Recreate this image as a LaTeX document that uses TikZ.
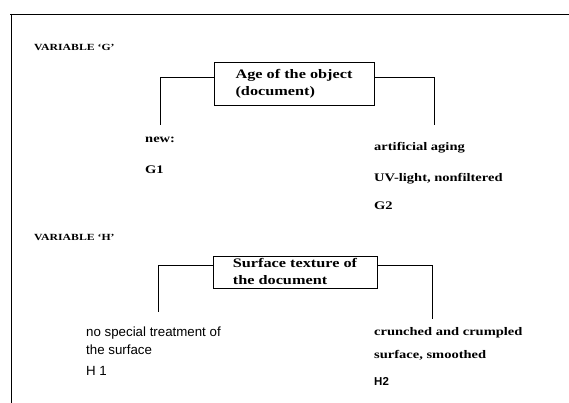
\documentclass[tikz,border=0pt]{standalone}
\usepackage{fontspec}
\setmainfont{Liberation Serif}[FakeStretch=1.25]
\setsansfont{Liberation Sans}
\usetikzlibrary{positioning}
\tikzset{varbox/.style={draw,line width=0.9pt,align=left,inner sep=0pt,
                        font=\bfseries\fontsize{13}{17}\selectfont},
         vartitle/.style={anchor=base west,inner sep=0pt,
                        font=\bfseries\fontsize{9.4}{12}\selectfont},
         lvl/.style={anchor=base west,inner sep=0pt,
                        font=\bfseries\fontsize{11.6}{15}\selectfont},
         slvl/.style={anchor=base west,inner sep=0pt,
                        font=\sffamily\fontsize{13.3}{15}\selectfont},
         wire/.style={line width=0.8pt}}

\begin{document}
\begin{tikzpicture}[x=1pt,y=-1pt]
    \useasboundingbox (0,0) rectangle (569,403);
    % frame
    \draw[wire] (10,14) -- (569,14);
    \draw[wire] (11,14) -- (11,403);
    %
    % variable G
    \node[vartitle] (varG) at (34,51) {VARIABLE `G'};
    \node[varbox,minimum width=160pt,minimum height=43pt] (boxG) at (294,83.5)
        {Age of the object\\(document)};
    \coordinate (g1end) at (160,125);
    \coordinate (g2end) at (434,125);
    \draw[wire] ([yshift=6.5pt]boxG.west) -| (g1end);
    \draw[wire] ([yshift=6.5pt]boxG.east) -| (g2end);
    \node[lvl] (g1a) at (145,143) {new:};
    \node[lvl] (g1b) at (145,174) {G1};
    \node[lvl] (g2a) at (374,151) {artificial aging};
    \node[lvl] (g2b) at (374,182) {UV-light, nonfiltered};
    \node[lvl] (g2c) at (374,209) {G2};
    %
    % variable H
    \node[vartitle] (varH) at (34,240) {VARIABLE `H'};
    \node[varbox,minimum width=164pt,minimum height=32pt] (boxH) at (295,272)
        {Surface texture of\\the document};
    \coordinate (h1end) at (158,312);
    \coordinate (h2end) at (432,319);
    \draw[wire] ([yshift=7pt]boxH.west) -| (h1end);
    \draw[wire] ([yshift=7pt]boxH.east) -| (h2end);
    \node[slvl] (h1a) at (86,336) {no special treatment of};
    \node[slvl] (h1b) at (86,354) {the surface};
    \node[slvl] (h1c) at (86,375) {H 1};
    \node[lvl] (h2a) at (374,335) {crunched and crumpled};
    \node[lvl] (h2b) at (374,358) {surface, smoothed};
    \node[slvl,font=\sffamily\bfseries\fontsize{11.5}{13}\selectfont] (h2c) at (374,385) {H2};
\end{tikzpicture}
\end{document}
